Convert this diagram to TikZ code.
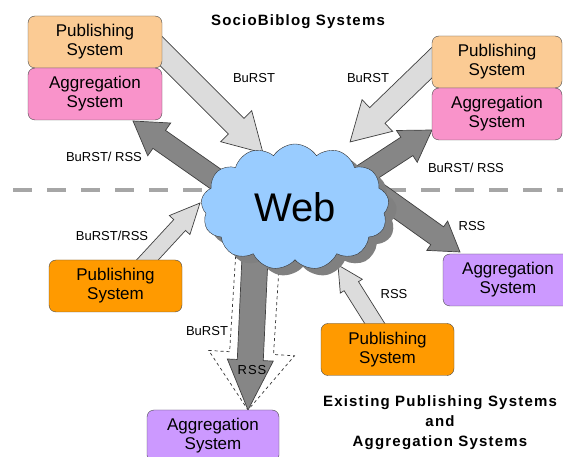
\documentclass[tikz,border=0pt]{standalone}
\usepackage{fontspec}
\setmainfont{Liberation Sans}
\usetikzlibrary{shapes.symbols,shadows,backgrounds,calc}

\definecolor{pubLight}{HTML}{FBCB94}
\definecolor{aggPink}{HTML}{F993CA}
\definecolor{pubOrange}{HTML}{FF9A00}
\definecolor{aggPurple}{HTML}{CC99FF}
\definecolor{webBlue}{HTML}{99CCFF}
\definecolor{arrLight}{HTML}{DCDCDC}
\definecolor{arrDark}{HTML}{868686}

% block arrow: style, tail, tip, shaft half width, head half width, head length
\newcommand{\bigarrow}[6]{%
  \path[#1] let \p1=(#2), \p2=(#3),
    \n1={atan2(\y2-\y1,\x2-\x1)}, \n2={veclen(\x2-\x1,\y2-\y1)} in
    [shift={(\p1)}, rotate=\n1]
    (0,-#4) -- ({\n2-#6},-#4) -- ({\n2-#6},-#5) -- (\n2,0)
    -- ({\n2-#6},#5) -- ({\n2-#6},#4) -- (0,#4) -- cycle;}

\tikzset{
  sysbox/.style={draw=black!70, rounded corners=7pt, minimum width=134pt,
    minimum height=52pt, align=center, inner sep=2pt,
    font=\fontsize{17}{19}\selectfont},
  lbl/.style={font=\fontsize{13}{15}\selectfont},
  heading/.style={align=center,
    font=\fontsize{15}{20}\selectfont\bfseries\addfontfeature{LetterSpace=8}},
  lightarr/.style={fill=arrLight, draw=black!75, line width=0.7pt},
  darkarr/.style={fill=arrDark, draw=black!75, line width=0.7pt},
  dasharr/.style={draw=black!80, line width=0.7pt, dashed},
}

\begin{document}
\begin{tikzpicture}[x=1pt, y=-1pt]

    \useasboundingbox (0,0) rectangle (563,457);

    % SocioBiblog systems (top)
    \node[sysbox, fill=pubLight] (pubTL) at (95,42) {Publishing\\System};
    \node[sysbox, fill=aggPink] (aggTL) at (95,94) {Aggregation\\System};
    \node[sysbox, fill=pubLight, minimum width=130pt] (pubTR) at (497,62) {Publishing\\System};
    \node[sysbox, fill=aggPink, minimum width=130pt] (aggTR) at (497,114) {Aggregation\\System};

    % Existing systems (bottom)
    \node[sysbox, fill=pubOrange, minimum width=133pt] (pubBL) at (115.5,286) {Publishing\\System};
    \node[sysbox, fill=pubOrange, minimum width=133pt] (pubBR) at (387.5,349.5) {Publishing\\System};
    \node[sysbox, fill=aggPurple, minimum width=130pt] (aggR) at (508,280) {Aggregation\\System};
    \node[sysbox, fill=aggPurple, minimum width=132pt] (aggB) at (213,436) {Aggregation\\System};

    % The web cloud
    \node[cloud, cloud puffs=13, cloud puff arc=115, aspect=1.5,
      draw=black!80, fill=webBlue, minimum width=188pt, minimum height=126pt,
      copy shadow={shadow xshift=8pt, shadow yshift=-7pt, fill=black!50, draw=none},
      font=\fontsize{40}{44}\selectfont] (web) at (295,207) {Web};

    % Arrow ends
    \coordinate (tail1) at (149,39);   \coordinate (tip1) at (263,153);
    \coordinate (tail2) at (230,189);  \coordinate (tip2) at (133,121);
    \coordinate (tail3) at (445,50);   \coordinate (tip3) at (350,142);
    \coordinate (tail4) at (340,190);  \coordinate (tip4) at (432,130);
    \coordinate (tail5) at (140,268);  \coordinate (tip5) at (200,203);
    \coordinate (tail6) at (373,190);  \coordinate (tip6) at (460,252);
    \coordinate (tail7) at (382,335);  \coordinate (tip7) at (338,265);
    \coordinate (tail8) at (256,235);  \coordinate (tip8) at (248,410);
    \coordinate (tail9) at (259,235);
    \coordinate (sepL) at (13,190);    \coordinate (sepR) at (563,190);

    \begin{scope}[on background layer]
      \fill[white] (0,0) rectangle (563,457);
      % Separator
      \draw[line width=4pt, black!35, dash pattern=on 19pt off 15pt] (sepL) -- (sepR);
      % Block arrows
      \bigarrow{lightarr}{tail1}{tip1}{11}{22}{38}
      \bigarrow{darkarr}{tail2}{tip2}{11}{20}{32}
      \bigarrow{lightarr}{tail3}{tip3}{11}{22}{38}
      \bigarrow{darkarr}{tail4}{tip4}{11}{19}{30}
      \bigarrow{lightarr}{tail5}{tip5}{8}{14}{30}
      \bigarrow{darkarr}{tail6}{tip6}{11}{18}{28}
      \bigarrow{lightarr}{tail7}{tip7}{8.5}{13}{25}
      \bigarrow{dasharr}{tail9}{tip8}{22}{43}{57}
      \bigarrow{darkarr}{tail8}{tip8}{13}{23}{50}
    \end{scope}

    % Arrow labels
    \node[lbl] (l1) at (254,78) {BuRST};
    \node[lbl] (l2) at (104,157) {BuRST/ RSS};
    \node[lbl] (l3) at (368,78) {BuRST};
    \node[lbl] (l4) at (466,168) {BuRST/ RSS};
    \node[lbl] (l5) at (112,236) {BuRST/RSS};
    \node[lbl] (l6) at (472,226) {RSS};
    \node[lbl] (l7) at (394,294) {RSS};
    \node[lbl] (l8) at (207,331) {BuRST};
    \node[lbl, font=\fontsize{13}{15}\selectfont\addfontfeature{LetterSpace=8}] (l9) at (252,370) {RSS};

    % Headings
    \node[heading] (topTitle) at (298,22) {SocioBiblog Systems};
    \node[heading] (botTitle) at (440,423) {Existing Publishing Systems\\and\\Aggregation Systems};

\end{tikzpicture}
\end{document}
